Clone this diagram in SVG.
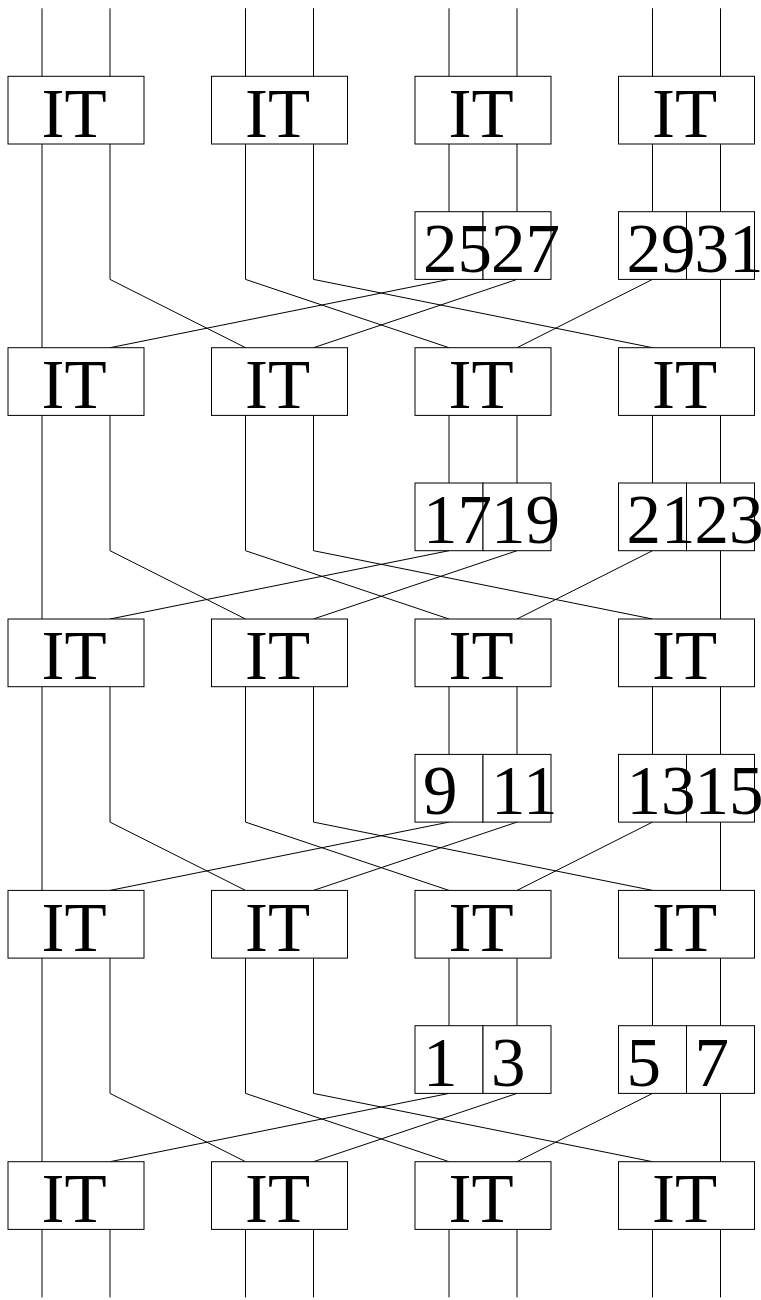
<svg xmlns="http://www.w3.org/2000/svg" width="761" height="1300" viewBox="0 0 761 1300">
<style>
.box{fill:#fff;stroke:#000;stroke-width:1}
.w{fill:none;stroke:#000;stroke-width:1}
.t{font-family:"Liberation Serif","Times New Roman",serif;font-size:69px;fill:#000}
</style>
<rect width="761" height="1300" fill="#fff"/>
<g id="connectors" class="w">
<!-- top inputs -->
<path d="M42,8.3V76.3 M110,8.3V76.3 M245.5,8.3V76.3 M313.5,8.3V76.3 M449,8.3V76.3 M517,8.3V76.3 M652.5,8.3V76.3 M720.5,8.3V76.3"/>
<!-- bottom outputs -->
<path d="M42,1229.4V1297.4 M110,1229.4V1297.4 M245.5,1229.4V1297.4 M313.5,1229.4V1297.4 M449,1229.4V1297.4 M517,1229.4V1297.4 M652.5,1229.4V1297.4 M720.5,1229.4V1297.4"/>
<!-- gap 0 -->
<path d="M42,144V347.7 M110,144V279.4L245.5,347.7 M245.5,144V279.4L449,347.7 M313.5,144V279.4L652.5,347.7 M449,144V211.7 M517,144V211.7 M652.5,144V211.7 M720.5,144V211.7 M449,279.4L110,347.7 M517,279.4L313.5,347.7 M652.5,279.4L517,347.7 M720.5,279.4V347.7"/>
<!-- gap 1 -->
<path d="M42,415.4V619 M110,415.4V550.7L245.5,619 M245.5,415.4V550.7L449,619 M313.5,415.4V550.7L652.5,619 M449,415.4V483 M517,415.4V483 M652.5,415.4V483 M720.5,415.4V483 M449,550.7L110,619 M517,550.7L313.5,619 M652.5,550.7L517,619 M720.5,550.7V619"/>
<!-- gap 2 -->
<path d="M42,686.7V890.4 M110,686.7V822.1L245.5,890.4 M245.5,686.7V822.1L449,890.4 M313.5,686.7V822.1L652.5,890.4 M449,686.7V754.4 M517,686.7V754.4 M652.5,686.7V754.4 M720.5,686.7V754.4 M449,822.1L110,890.4 M517,822.1L313.5,890.4 M652.5,822.1L517,890.4 M720.5,822.1V890.4"/>
<!-- gap 3 -->
<path d="M42,958.1V1161.7 M110,958.1V1093.4L245.5,1161.7 M245.5,958.1V1093.4L449,1161.7 M313.5,958.1V1093.4L652.5,1161.7 M449,958.1V1025.7 M517,958.1V1025.7 M652.5,958.1V1025.7 M720.5,958.1V1025.7 M449,1093.4L110,1161.7 M517,1093.4L313.5,1161.7 M652.5,1093.4L517,1161.7 M720.5,1093.4V1161.7"/>
</g>
<!-- IT row 0 -->
<g id="it-0-0"><rect class="box" x="8" y="76.3" width="136" height="67.7"/><text class="t" x="41.5" y="136.7">IT</text></g>
<g id="it-0-1"><rect class="box" x="211.5" y="76.3" width="136" height="67.7"/><text class="t" x="245" y="136.7">IT</text></g>
<g id="it-0-2"><rect class="box" x="415" y="76.3" width="136" height="67.7"/><text class="t" x="448.5" y="136.7">IT</text></g>
<g id="it-0-3"><rect class="box" x="618.5" y="76.3" width="136" height="67.7"/><text class="t" x="652" y="136.7">IT</text></g>
<!-- IT row 1 -->
<g id="it-1-0"><rect class="box" x="8" y="347.7" width="136" height="67.7"/><text class="t" x="41.5" y="408.1">IT</text></g>
<g id="it-1-1"><rect class="box" x="211.5" y="347.7" width="136" height="67.7"/><text class="t" x="245" y="408.1">IT</text></g>
<g id="it-1-2"><rect class="box" x="415" y="347.7" width="136" height="67.7"/><text class="t" x="448.5" y="408.1">IT</text></g>
<g id="it-1-3"><rect class="box" x="618.5" y="347.7" width="136" height="67.7"/><text class="t" x="652" y="408.1">IT</text></g>
<!-- IT row 2 -->
<g id="it-2-0"><rect class="box" x="8" y="619" width="136" height="67.7"/><text class="t" x="41.5" y="679.4">IT</text></g>
<g id="it-2-1"><rect class="box" x="211.5" y="619" width="136" height="67.7"/><text class="t" x="245" y="679.4">IT</text></g>
<g id="it-2-2"><rect class="box" x="415" y="619" width="136" height="67.7"/><text class="t" x="448.5" y="679.4">IT</text></g>
<g id="it-2-3"><rect class="box" x="618.5" y="619" width="136" height="67.7"/><text class="t" x="652" y="679.4">IT</text></g>
<!-- IT row 3 -->
<g id="it-3-0"><rect class="box" x="8" y="890.4" width="136" height="67.7"/><text class="t" x="41.5" y="950.8">IT</text></g>
<g id="it-3-1"><rect class="box" x="211.5" y="890.4" width="136" height="67.7"/><text class="t" x="245" y="950.8">IT</text></g>
<g id="it-3-2"><rect class="box" x="415" y="890.4" width="136" height="67.7"/><text class="t" x="448.5" y="950.8">IT</text></g>
<g id="it-3-3"><rect class="box" x="618.5" y="890.4" width="136" height="67.7"/><text class="t" x="652" y="950.8">IT</text></g>
<!-- IT row 4 -->
<g id="it-4-0"><rect class="box" x="8" y="1161.7" width="136" height="67.7"/><text class="t" x="41.5" y="1222.1">IT</text></g>
<g id="it-4-1"><rect class="box" x="211.5" y="1161.7" width="136" height="67.7"/><text class="t" x="245" y="1222.1">IT</text></g>
<g id="it-4-2"><rect class="box" x="415" y="1161.7" width="136" height="67.7"/><text class="t" x="448.5" y="1222.1">IT</text></g>
<g id="it-4-3"><rect class="box" x="618.5" y="1161.7" width="136" height="67.7"/><text class="t" x="652" y="1222.1">IT</text></g>
<!-- small boxes row 0 -->
<g id="s-25-27"><rect class="box" x="415" y="211.7" width="68" height="67.7"/><rect class="box" x="483" y="211.7" width="68" height="67.7"/><text class="t" x="423" y="271.7">25</text><text class="t" x="491" y="271.7">27</text></g>
<g id="s-29-31"><rect class="box" x="618.5" y="211.7" width="68" height="67.7"/><rect class="box" x="686.5" y="211.7" width="68" height="67.7"/><text class="t" x="626.5" y="271.7">29</text><text class="t" x="694.5" y="271.7">31</text></g>
<!-- small boxes row 1 -->
<g id="s-17-19"><rect class="box" x="415" y="483" width="68" height="67.7"/><rect class="box" x="483" y="483" width="68" height="67.7"/><text class="t" x="423" y="543">17</text><text class="t" x="491" y="543">19</text></g>
<g id="s-21-23"><rect class="box" x="618.5" y="483" width="68" height="67.7"/><rect class="box" x="686.5" y="483" width="68" height="67.7"/><text class="t" x="626.5" y="543">21</text><text class="t" x="694.5" y="543">23</text></g>
<!-- small boxes row 2 -->
<g id="s-9-11"><rect class="box" x="415" y="754.4" width="68" height="67.7"/><rect class="box" x="483" y="754.4" width="68" height="67.7"/><text class="t" x="423" y="814.4">9</text><text class="t" x="491" y="814.4">11</text></g>
<g id="s-13-15"><rect class="box" x="618.5" y="754.4" width="68" height="67.7"/><rect class="box" x="686.5" y="754.4" width="68" height="67.7"/><text class="t" x="626.5" y="814.4">13</text><text class="t" x="694.5" y="814.4">15</text></g>
<!-- small boxes row 3 -->
<g id="s-1-3"><rect class="box" x="415" y="1025.7" width="68" height="67.7"/><rect class="box" x="483" y="1025.7" width="68" height="67.7"/><text class="t" x="423" y="1085.7">1</text><text class="t" x="491" y="1085.7">3</text></g>
<g id="s-5-7"><rect class="box" x="618.5" y="1025.7" width="68" height="67.7"/><rect class="box" x="686.5" y="1025.7" width="68" height="67.7"/><text class="t" x="626.5" y="1085.7">5</text><text class="t" x="694.5" y="1085.7">7</text></g>
</svg>
